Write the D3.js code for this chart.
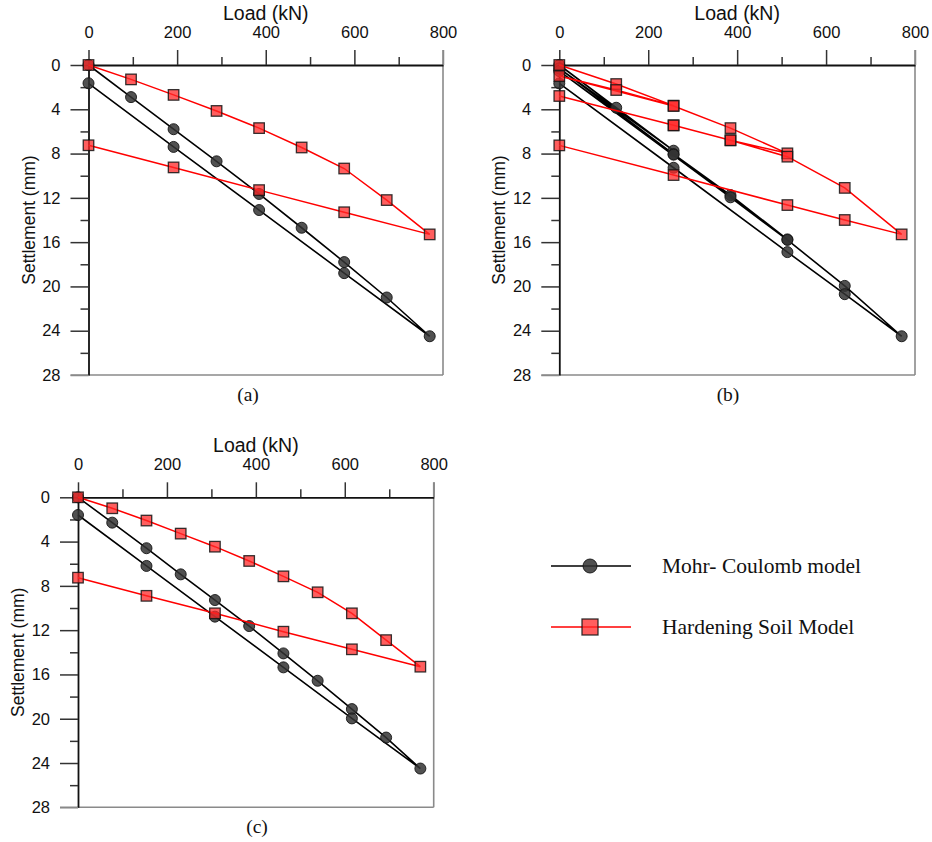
<!DOCTYPE html>
<html>
<head>
<meta charset="utf-8">
<script src="https://cdn.jsdelivr.net/npm/d3@7"></script>
<style>
  body { margin: 0; background: #fff; }
  svg { display: block; }
</style>
</head>
<body>
<div id="chart"></div>
<script>
// axis ticks
const loadTicks = [0, 200, 400, 600, 800];
const loadMinor = [100, 300, 500, 700];
const settleTicks = [0, 4, 8, 12, 16, 20, 24, 28];
const settleMinor = [2, 6, 10, 14, 18, 22, 26];

// (a) one load/unload cycle
const aMcLoad = [0, 96, 192, 289, 385, 481, 577, 673, 770, 577, 385, 192, 0];
const aMcSettle = [0, 2.9, 5.8, 8.7, 11.65, 14.7, 17.8, 21.0, 24.5, 18.8, 13.1, 7.4, 1.65];
const aHsLoad = [0, 96, 192, 289, 385, 481, 577, 673, 770, 577, 385, 192, 0];
const aHsSettle = [0, 1.3, 2.7, 4.15, 5.7, 7.45, 9.35, 12.2, 15.3, 13.3, 11.3, 9.25, 7.25];

// (b) three cycles
const bMcLoad = [0, 128, 257, 0, 257, 385, 513, 257, 0, 385, 513, 642, 770, 642, 513, 257, 0];
const bMcSettle = [0, 3.86, 7.74, 0.3, 8.05, 11.75, 15.75, 8.1, 0.55, 11.95, 15.8, 19.95, 24.5, 20.7, 16.9, 9.28, 1.66];
const bHsLoad = [0, 128, 257, 128, 0, 257, 385, 513, 385, 257, 0, 257, 385, 513, 642, 770, 642, 513, 257, 0];
const bHsSettle = [0, 1.72, 3.67, 2.26, 1.0, 3.7, 5.7, 7.98, 6.8, 5.45, 2.8, 5.45, 6.8, 8.28, 11.1, 15.3, 14.0, 12.65, 9.94, 7.26];

// (c) one cycle, smaller steps
const cMcLoad = [0, 77, 154, 231, 308, 385, 462, 539, 616, 693, 770, 616, 462, 308, 154, 0];
const cMcSettle = [0, 2.29, 4.6, 6.96, 9.28, 11.63, 14.1, 16.57, 19.13, 21.7, 24.5, 19.97, 15.36, 10.78, 6.2, 1.6];
const cHsLoad = [0, 77, 154, 231, 308, 385, 462, 539, 616, 693, 770, 616, 462, 308, 154, 0];
const cHsSettle = [0, 0.99, 2.1, 3.28, 4.46, 5.75, 7.14, 8.58, 10.48, 12.9, 15.3, 13.73, 12.14, 10.48, 8.9, 7.26];

const legendLabels = ["Mohr- Coulomb model", "Hardening Soil Model"];

const sans = "'Liberation Sans', Arial, sans-serif";
const serif = "'Liberation Serif', 'Times New Roman', serif";

const svg = d3.select("#chart").append("svg")
    .attr("width", 932)
    .attr("height", 842);

const panels = [
  { x0: 88.5, x1: 443, y0: 65, y1: 375, cap: "(a)", capX: 248, capY: 401, mc: [aMcLoad, aMcSettle], hs: [aHsLoad, aHsSettle] },
  { x0: 559.3, x1: 915, y0: 65, y1: 375, cap: "(b)", capX: 728, capY: 401, mc: [bMcLoad, bMcSettle], hs: [bHsLoad, bHsSettle] },
  { x0: 78, x1: 433.7, y0: 497.3, y1: 807.3, cap: "(c)", capX: 257, capY: 833, mc: [cMcLoad, cMcSettle], hs: [cHsLoad, cHsSettle] }
];

function drawSquare(sel, s) {
  return sel.append("rect")
      .attr("width", s).attr("height", s)
      .attr("fill", "rgba(255,40,40,0.75)")
      .attr("stroke", "rgba(20,20,20,0.85)")
      .attr("stroke-width", 1.3);
}
function drawCircle(sel, r) {
  return sel.append("circle")
      .attr("r", r)
      .attr("fill", "rgba(50,50,50,0.85)")
      .attr("stroke", "rgba(20,20,20,0.9)")
      .attr("stroke-width", 1);
}

panels.forEach(p => {
  const x = d3.scaleLinear().domain([0, 800]).range([p.x0, p.x1]);
  const y = d3.scaleLinear().domain([0, 28]).range([p.y0, p.y1]);
  const g = svg.append("g");

  // frame: right and bottom in grey
  g.append("line").attr("x1", p.x1).attr("x2", p.x1).attr("y1", p.y0 - 15).attr("y2", p.y1)
      .attr("stroke", "#8a8a8a").attr("stroke-width", 1.6);
  g.append("line").attr("x1", p.x0 - 18).attr("x2", p.x1).attr("y1", p.y1).attr("y2", p.y1)
      .attr("stroke", "#8a8a8a").attr("stroke-width", 1.6);

  // top axis
  const top = g.append("g").attr("transform", `translate(0,${p.y0})`)
      .call(d3.axisTop(x).tickValues(loadTicks).tickSize(15).tickPadding(12).tickSizeOuter(0));
  g.append("g").attr("transform", `translate(0,${p.y0})`)
      .call(d3.axisTop(x).tickValues(loadMinor).tickSize(8).tickFormat("").tickSizeOuter(0))
      .call(a => a.select(".domain").remove());

  // left axis
  const left = g.append("g").attr("transform", `translate(${p.x0},0)`)
      .call(d3.axisLeft(y).tickValues(settleTicks).tickSize(18).tickPadding(10).tickSizeOuter(0));
  g.append("g").attr("transform", `translate(${p.x0},0)`)
      .call(d3.axisLeft(y).tickValues(settleMinor).tickSize(8).tickFormat("").tickSizeOuter(0))
      .call(a => a.select(".domain").remove());

  g.selectAll(".tick line").attr("stroke", "#333").attr("stroke-width", 1.5);
  g.selectAll(".domain").attr("stroke", "#111").attr("stroke-width", 1.8);
  g.selectAll(".tick text").attr("font-family", sans).attr("font-size", 16.5).attr("fill", "#111");
  // 800 and 28 ticks are part of the grey frame
  top.selectAll(".tick").filter(d => d === 800).select("line").attr("stroke", "#8a8a8a");
  left.selectAll(".tick").filter(d => d === 28).select("line").attr("stroke", "#8a8a8a");

  g.append("text")
      .attr("x", (p.x0 + p.x1) / 2).attr("y", p.y0 - 45)
      .attr("text-anchor", "middle")
      .attr("font-family", sans).attr("font-size", 19.5).attr("fill", "#111")
      .text("Load (kN)");

  g.append("text")
      .attr("transform", `translate(${p.x0 - 54},${(p.y0 + p.y1) / 2}) rotate(-90)`)
      .attr("text-anchor", "middle")
      .attr("font-family", sans).attr("font-size", 17.5).attr("fill", "#111")
      .text("Settlement (mm)");

  g.append("text")
      .attr("x", p.capX).attr("y", p.capY)
      .attr("text-anchor", "middle")
      .attr("font-family", serif).attr("font-size", 19.5).attr("fill", "#111")
      .text(p.cap);

  const line = d3.line().x(d => x(d[0])).y(d => y(d[1]));

  // Mohr-Coulomb
  const mc = d3.zip(p.mc[0], p.mc[1]);
  g.append("path").datum(mc).attr("d", line)
      .attr("fill", "none").attr("stroke", "#000").attr("stroke-width", 1.6);
  g.selectAll(null).data(mc).enter().append("g")
      .attr("transform", d => `translate(${x(d[0])},${y(d[1])})`)
      .each(function () { drawCircle(d3.select(this), 5.5); });

  // Hardening Soil
  const hs = d3.zip(p.hs[0], p.hs[1]);
  g.append("path").datum(hs).attr("d", line)
      .attr("fill", "none").attr("stroke", "#ff0000").attr("stroke-width", 1.5);
  g.selectAll(null).data(hs).enter().append("g")
      .attr("transform", d => `translate(${x(d[0])},${y(d[1])})`)
      .each(function () { drawSquare(d3.select(this), 10.5).attr("x", -5.25).attr("y", -5.25); });
});

// legend
const leg = svg.append("g");
const legY = [566, 627];
leg.append("line").attr("x1", 551).attr("x2", 631).attr("y1", legY[0]).attr("y2", legY[0])
    .attr("stroke", "#000").attr("stroke-width", 1.6);
drawCircle(leg, 7).attr("cx", 590).attr("cy", legY[0]);
leg.append("line").attr("x1", 551).attr("x2", 631).attr("y1", legY[1]).attr("y2", legY[1])
    .attr("stroke", "#ff0000").attr("stroke-width", 1.5);
drawSquare(leg, 16).attr("x", 582).attr("y", legY[1] - 8);
leg.selectAll(".lbl").data(legendLabels).enter().append("text")
    .attr("x", 662).attr("y", (d, i) => legY[i] + 7)
    .attr("font-family", serif).attr("font-size", 21.5).attr("fill", "#111")
    .text(d => d);
</script>
</body>
</html>
